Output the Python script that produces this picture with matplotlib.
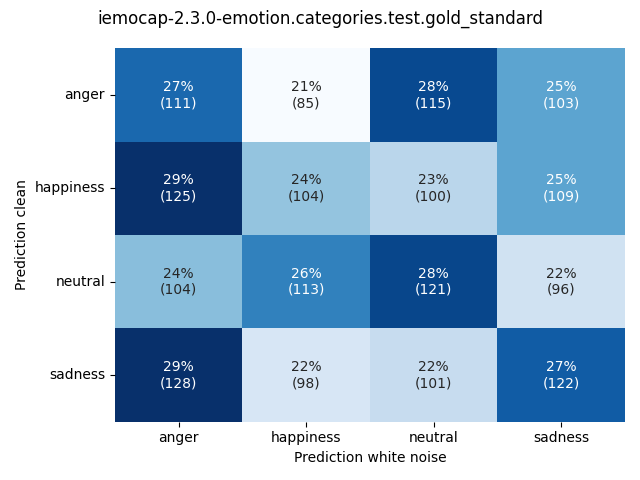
import numpy as np
import matplotlib
matplotlib.use("Agg")
import matplotlib.pyplot as plt
import seaborn as sns

labels = ["anger", "happiness", "neutral", "sadness"]
counts = np.array([
    [111, 85, 115, 103],
    [125, 104, 100, 109],
    [104, 113, 121, 96],
    [128, 98, 101, 122],
])

pct = counts / counts.sum(axis=1, keepdims=True) * 100
annot = np.array([[f"{pct[i, j]:.0f}%\n({counts[i, j]})" for j in range(4)] for i in range(4)])

fig, ax = plt.subplots(figsize=(6.4, 4.8), dpi=100)
sns.heatmap(pct, annot=annot, fmt="", cmap="Blues", cbar=False,
            xticklabels=labels, yticklabels=labels, ax=ax)
ax.set_xlabel("Prediction white noise")
ax.set_ylabel("Prediction clean")
plt.setp(ax.get_yticklabels(), rotation=0)
fig.suptitle("iemocap-2.3.0-emotion.categories.test.gold_standard")
fig.tight_layout()
fig.savefig("out.png")
